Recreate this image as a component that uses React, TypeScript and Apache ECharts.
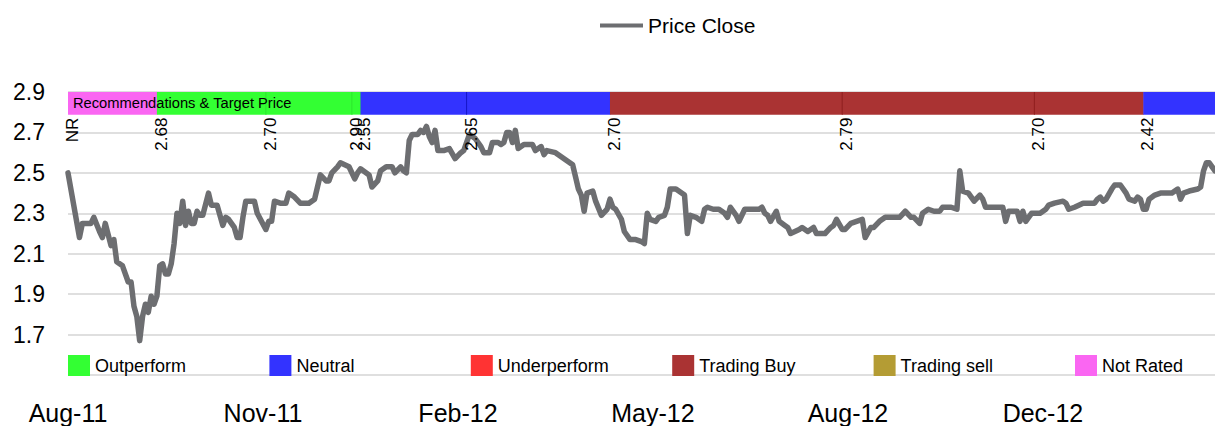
import React, { useEffect, useRef } from 'react';
import * as echarts from 'echarts';

// Trading-day index (0 = early Aug-11) and closing price
const days = [
  0, 4, 5, 8, 9, 11, 12, 13, 15, 16, 17, 19, 21, 22, 23, 24, 25, 26, 27, 28, 29, 30, 31, 32, 33, 34, 35, 36, 37, 38, 39,
  40, 41, 42, 43, 44, 45, 46, 47, 49, 50, 52, 54, 55, 56, 58, 59, 60, 61, 62, 65, 66, 69, 70, 71, 72, 74, 76, 77, 79,
  81, 84, 86, 88, 90, 91, 92, 94, 95, 98, 100, 101, 102, 105, 106, 108, 109, 111, 113, 114, 116, 117, 118, 119, 120,
  122, 123, 124, 125, 126, 127, 128, 129, 131, 133, 135, 137, 138, 140, 142, 144, 145, 147, 148, 150, 151, 152, 153,
  154, 155, 156, 157, 159, 162, 163, 165, 166, 167, 170, 171, 173, 174, 176, 177, 178, 179, 180, 181, 183, 184, 186,
  188, 189, 190, 191, 193, 194, 196, 198, 200, 201, 202, 203, 205, 206, 208, 209, 210, 212, 213, 215, 216, 217, 219,
  221, 222, 223, 225, 227, 229, 230, 231, 233, 234, 236, 241, 242, 243, 244, 245, 247, 248, 250, 251, 252, 255, 256,
  258, 260, 261, 264, 266, 267, 268, 270, 271, 273, 275, 277, 278, 280, 281, 283, 285, 287, 290, 292, 294, 295, 297,
  298, 300, 302, 304, 305, 308, 310, 311, 312, 314, 316, 318, 319, 320, 322, 326, 327, 328, 331, 332, 333, 334, 336,
  339, 341, 342, 344, 347, 348, 349, 351, 354, 358, 359, 360, 361, 362, 364, 365, 367, 369, 370, 372, 373, 374, 375,
  376, 377, 379, 381, 385, 387, 388, 389, 391, 394, 395, 396, 397, 398, 399, 400,
];
const prices = [
  2.5, 2.18, 2.25, 2.25, 2.28, 2.21, 2.18, 2.25, 2.14, 2.17, 2.06, 2.04, 1.96, 1.96, 1.84, 1.79, 1.67, 1.79, 1.85, 1.81,
  1.89, 1.85, 1.89, 2.04, 2.05, 2.0, 2.0, 2.05, 2.15, 2.3, 2.25,
  2.36, 2.24, 2.31, 2.25, 2.25, 2.31, 2.29, 2.29, 2.4, 2.34, 2.34, 2.24, 2.28, 2.27, 2.23, 2.18, 2.18, 2.28, 2.36, 2.36,
  2.3, 2.22, 2.26, 2.26, 2.36, 2.35, 2.35, 2.4, 2.38,
  2.35, 2.35, 2.37, 2.49, 2.46, 2.46, 2.5, 2.53, 2.55, 2.53, 2.47, 2.5, 2.52, 2.49, 2.43, 2.46, 2.51, 2.53, 2.53, 2.5,
  2.53, 2.51, 2.5, 2.66, 2.69,
  2.69, 2.71, 2.7, 2.73, 2.68, 2.65, 2.71, 2.61, 2.61, 2.62, 2.57, 2.6, 2.61, 2.69, 2.67, 2.63, 2.6, 2.6, 2.65, 2.65,
  2.64, 2.65, 2.7,
  2.7, 2.65, 2.71, 2.62, 2.64, 2.64, 2.61, 2.63, 2.59, 2.61, 2.6, 2.59, 2.57, 2.56, 2.54, 2.48, 2.42, 2.39, 2.31, 2.4,
  2.41, 2.36, 2.29,
  2.32, 2.37, 2.33, 2.32, 2.27, 2.21, 2.17, 2.17, 2.16, 2.15, 2.3, 2.27, 2.26, 2.28, 2.29, 2.33, 2.42, 2.42, 2.41, 2.39,
  2.2, 2.29, 2.28,
  2.26, 2.32, 2.33, 2.32, 2.32, 2.3, 2.28, 2.33, 2.29, 2.26, 2.32, 2.32, 2.33, 2.3, 2.29, 2.26, 2.31, 2.26, 2.24, 2.23,
  2.2, 2.22, 2.23,
  2.21, 2.23, 2.2, 2.2, 2.23, 2.24, 2.27, 2.22, 2.22, 2.25, 2.26, 2.27, 2.18, 2.23, 2.23, 2.26, 2.28, 2.28, 2.28, 2.31,
  2.28, 2.28, 2.25,
  2.3, 2.32, 2.31, 2.31, 2.33, 2.33, 2.32, 2.51, 2.41, 2.4, 2.36, 2.39, 2.37, 2.33, 2.33, 2.33, 2.26, 2.31, 2.31, 2.26,
  2.31, 2.26, 2.3,
  2.3, 2.32, 2.34, 2.35, 2.36, 2.35, 2.32, 2.33, 2.35, 2.35, 2.37, 2.38, 2.36, 2.37, 2.42, 2.44, 2.44, 2.4, 2.37, 2.36,
  2.38, 2.37, 2.32,
  2.32, 2.37, 2.39, 2.4, 2.4, 2.42, 2.37, 2.4, 2.41, 2.42, 2.43, 2.51, 2.55, 2.55, 2.53, 2.51,
];

const xTickDays = [0, 68, 136, 204, 272, 340];
const xTickLabels = ['Aug-11', 'Nov-11', 'Feb-12', 'May-12', 'Aug-12', 'Dec-12'];

const ratingNames = ['Outperform', 'Neutral', 'Underperform', 'Trading Buy', 'Trading sell', 'Not Rated'];
const ratingColors = ['#33FF33', '#3333FF', '#FF3333', '#AA3333', '#B49C34', '#FA66F2'];
const ratingEdges = ['#2EE62E', '#1515C8', '#8E1C1C', '#8E1C1C', '#8B7A20', '#C040C0'];

// Recommendation history: start / end trading day, rating index, target price
const segStart = [0, 31, 69, 99, 102, 139, 189, 270, 337, 375];
const segEnd = [31, 69, 99, 102, 139, 189, 270, 337, 375, 400];
const segRating = [5, 0, 0, 0, 1, 1, 3, 3, 3, 1];
const segTarget = ['NR', '2.68', '2.70', '2.90', '2.55', '2.65', '2.70', '2.79', '2.70', '2.42'];
const bandTop = 2.9;
const bandBottom = 2.788;

const FONT = 'Liberation Sans, Arial, sans-serif';

export default function App() {
  const ref = useRef<HTMLDivElement>(null);

  useEffect(() => {
    const chart = echarts.init(ref.current as HTMLDivElement, null, { renderer: 'svg' });

    const ratingSeries = ratingNames.map((name, i) => ({
      name,
      type: 'bar',
      data: [],
      itemStyle: { color: ratingColors[i] },
    }));

    const ratingLegends = ratingNames.map((name, i) => ({
      data: [{ name, icon: 'rect' }],
      left: 68 + i * 201.4,
      top: 355,
      padding: 0,
      itemWidth: 22,
      itemHeight: 21,
      selectedMode: false,
      textStyle: { fontSize: 18, color: '#000', fontFamily: FONT },
    }));

    const option: any = {
      animation: false,
      backgroundColor: '#ffffff',
      textStyle: { fontFamily: FONT },
      grid: { left: 68, right: 0, top: 92, bottom: 51, containLabel: false },
      legend: [
        {
          data: [{ name: 'Price Close', icon: 'rect' }],
          left: 600,
          top: 15,
          padding: 0,
          itemWidth: 43,
          itemHeight: 4,
          selectedMode: false,
          textStyle: { fontSize: 21, color: '#000', fontFamily: FONT },
        },
        ...ratingLegends,
      ],
      xAxis: {
        type: 'value',
        min: 0,
        max: 400,
        interval: 68,
        axisLine: { show: false },
        axisTick: { show: false },
        splitLine: { show: false },
        axisLabel: {
          margin: 25,
          fontSize: 25,
          color: '#000',
          fontFamily: FONT,
          showMaxLabel: false,
          formatter: (v: number) => {
            const i = xTickDays.indexOf(Math.round(v));
            return i >= 0 ? xTickLabels[i] : '';
          },
        },
      },
      yAxis: {
        type: 'value',
        min: 1.5,
        max: 2.9,
        interval: 0.2,
        axisLine: { show: false },
        axisTick: { show: false },
        splitLine: { lineStyle: { color: '#D4D4D4', width: 1.5 } },
        axisLabel: {
          margin: 23,
          fontSize: 23,
          color: '#000',
          fontFamily: FONT,
          formatter: (v: number) => (v < 1.6 ? '' : v.toFixed(1)),
        },
      },
      graphic: [
        {
          type: 'text',
          z: 100,
          x: 73,
          y: 103,
          style: {
            text: 'Recommendations & Target Price',
            fontSize: 14.7,
            fill: '#000',
            verticalAlign: 'middle',
            fontFamily: FONT,
          },
        },
      ],
      series: [
        {
          name: 'Price Close',
          type: 'line',
          data: days.map((d, i) => [d, prices[i]]),
          showSymbol: false,
          symbol: 'none',
          color: '#6D6E71',
          lineStyle: { width: 5.5, color: '#6D6E71', join: 'round', cap: 'round' },
          z: 3,
        },
        {
          type: 'custom',
          silent: true,
          z: 5,
          data: segStart.map((s, i) => [s, segEnd[i], bandTop]),
          encode: { x: [0, 1], y: 2 },
          renderItem: (params: any, api: any) => {
            const i = params.dataIndex;
            const p0 = api.coord([api.value(0), bandTop]);
            const p1 = api.coord([api.value(1), bandBottom]);
            const r = segRating[i];
            const children: any[] = [
              {
                type: 'rect',
                shape: { x: p0[0], y: p0[1], width: p1[0] - p0[0] + 0.5, height: p1[1] - p0[1] },
                style: { fill: ratingColors[r] },
              },
            ];
            if (i > 0 && segRating[i - 1] === r) {
              children.push({
                type: 'line',
                z2: 10,
                shape: { x1: p0[0], y1: p0[1], x2: p0[0], y2: p1[1] },
                style: { stroke: ratingEdges[r], lineWidth: 1 },
              });
            }
            children.push({
              type: 'text',
              x: p0[0] + 4.5,
              y: p1[1] + 3,
              rotation: Math.PI / 2,
              style: {
                text: segTarget[i],
                align: 'right',
                verticalAlign: 'middle',
                fontSize: 17,
                fill: '#000',
                fontFamily: FONT,
              },
            });
            return { type: 'group', children };
          },
        },
        ...ratingSeries,
      ],
    };

    chart.setOption(option);
    return () => chart.dispose();
  }, []);

  return (
    <div
      ref={ref}
      style={{ position: 'absolute', left: 0, top: 0, width: 1215, height: 426, background: '#fff' }}
    />
  );
}
